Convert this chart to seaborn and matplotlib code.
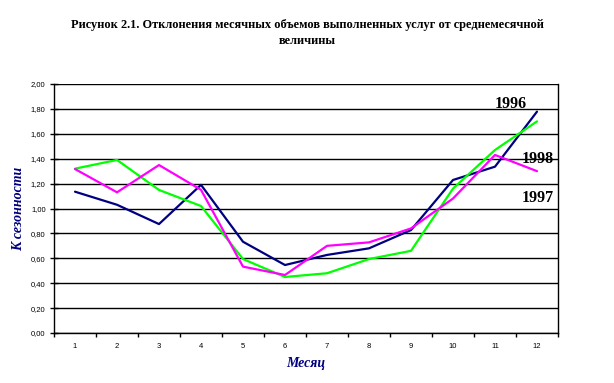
import matplotlib
matplotlib.use("Agg")
import matplotlib.pyplot as plt
import seaborn as sns
import pandas as pd

months = list(range(1, 13))
k1996 = [1.135, 1.03, 0.875, 1.19, 0.733, 0.546, 0.627, 0.68, 0.827, 1.229, 1.336, 1.778]
k1997 = [1.32, 1.39, 1.149, 1.02, 0.594, 0.45, 0.48, 0.594, 0.66, 1.16, 1.47, 1.70]
k1998 = [1.317, 1.13, 1.349, 1.15, 0.533, 0.466, 0.70, 0.728, 0.84, 1.08, 1.43, 1.30]
years = ["1996", "1997", "1998"]
colors = {"1996": "#000080", "1997": "#00FF00", "1998": "#FF00FF"}
yticks = [0.0, 0.2, 0.4, 0.6, 0.8, 1.0, 1.2, 1.4, 1.6, 1.8, 2.0]
ytick_labels = ["0,00", "0,20", "0,40", "0,60", "0,80", "1,00", "1,20", "1,40", "1,60", "1,80", "2,00"]
title = "Рисунок 2.1. Отклонения месячных объемов выполненных услуг от среднемесячной\nвеличины"

df = pd.DataFrame({
    "Месяц": months * 3,
    "K": k1996 + k1997 + k1998,
    "Год": ["1996"] * 12 + ["1997"] * 12 + ["1998"] * 12,
})

sns.set_theme(style="white")
plt.rcParams["font.family"] = ["Liberation Sans", "DejaVu Sans"]
plt.rcParams["text.color"] = "black"
plt.rcParams["xtick.color"] = "black"
plt.rcParams["ytick.color"] = "black"
plt.rcParams["axes.labelcolor"] = "black"

fig = plt.figure(figsize=(6.14, 3.83), dpi=100)
ax = fig.add_axes([54 / 614, 50 / 383, 504 / 614, 249 / 383])

for y in yticks:
    ax.axhline(y, color="black", lw=1.0, zorder=0)

sns.lineplot(data=df, x="Месяц", y="K", hue="Год", palette=colors,
             hue_order=years, linewidth=1.6, legend=False, ax=ax, zorder=3)

ax.set_xlim(0.5, 12.5)
ax.set_ylim(0, 2.0)
ax.set_yticks(yticks)
ax.set_yticklabels(ytick_labels, fontsize=5.5)
ax.set_xticks(months)
ax.set_xticklabels([str(m) for m in months], fontsize=5.5)
ax.set_xticks([m + 0.5 for m in range(0, 13)], minor=True)
ax.tick_params(axis="x", which="major", length=0, pad=7)
ax.tick_params(axis="x", which="minor", direction="out", length=3, width=1, color="black", bottom=True)
ax.tick_params(axis="y", direction="inout", length=6, width=1, color="black", left=True, pad=3)

for s in ax.spines.values():
    s.set_color("black")
    s.set_linewidth(1.0)
ax.spines["top"].set_visible(False)

ax.set_xlabel("Месяц", fontsize=10, fontweight="bold", fontstyle="italic",
              color="#000080", family="Liberation Serif", labelpad=5)
ax.set_ylabel("К сезонности", fontsize=10, fontweight="bold", fontstyle="italic",
              color="#000080", family="Liberation Serif", labelpad=4)

serif = dict(family="Liberation Serif", fontweight="bold", fontsize=11.5, color="black")
ax.text(11.0, 1.84, "1996", va="center", ha="left", **serif)
ax.text(11.64, 1.40, "1998", va="center", ha="left", **serif)
ax.text(11.64, 1.085, "1997", va="center", ha="left", **serif)

fig.text(0.5, 1 - 33 / 383, title, ha="center", va="center", family="Liberation Serif",
         fontweight="bold", fontsize=8.9, linespacing=1.55, color="black")

fig.savefig("out.png", dpi=100, facecolor="white")
